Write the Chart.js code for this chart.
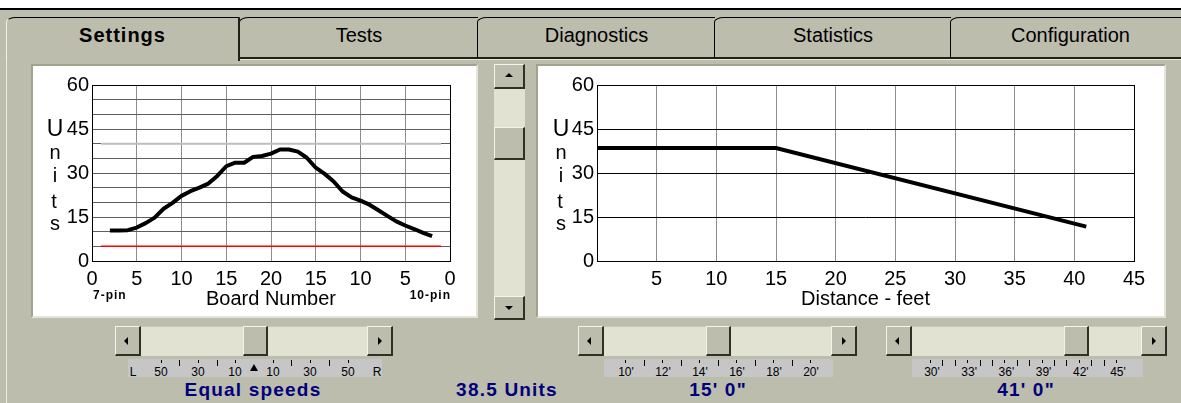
<!DOCTYPE html>
<html>
<head>
<meta charset="utf-8">
<script src="https://cdn.jsdelivr.net/npm/chart.js@4.4.1/dist/chart.umd.min.js"></script>
<style>
  body { margin:0; width:1181px; height:403px; position:relative; overflow:hidden; background:#BDBDAD; font-family:"Liberation Sans", Arial, sans-serif; }
  .tab { position:absolute; top:17px; height:42px; box-sizing:border-box; border-top:1px solid #000; border-left:1px solid #000; border-bottom:2px solid #202018; border-top-left-radius:10px 5px; text-align:center; font-size:20px; line-height:35px; color:#000; }
  .tab.on { border-bottom:none; border-left:1px solid #F2F2E8; border-right:2px solid #202018; font-weight:bold; letter-spacing:1px; height:44px; z-index:2; background:#BDBDAD; }
  .box { position:absolute; background:#fff; box-sizing:border-box; border:2px solid; border-color:#A2A28E #E4E4D8 #E4E4D8 #A2A28E; }
  .track { position:absolute; background:#E2E2D3; }
  .btn { position:absolute; background:#BDBDAD; box-sizing:border-box; border-style:solid; border-width:1px 2px 2px 1px; border-color:#F4F4EA #303024 #303024 #F4F4EA; }
  .arr { position:absolute; width:0; height:0; }
  .strip { position:absolute; background:#C6C6C6; top:359px; height:18px; }
  .t { position:absolute; white-space:nowrap; line-height:1; }
  canvas { position:absolute; }
</style>
</head>
<body>
<div style="position:absolute;left:0;top:0;width:1181px;height:8px;background:#fff"></div>
<div style="position:absolute;left:0;top:8px;width:1181px;height:2px;background:#000"></div>

<div class="tab on" style="left:6px;width:234px">Settings</div>
<div class="tab" style="left:239px;width:239px">Tests</div>
<div class="tab" style="left:477px;width:238px">Diagnostics</div>
<div class="tab" style="left:714px;width:237px">Statistics</div>
<div class="tab" style="left:950px;width:240px">Configuration</div>
<div style="position:absolute;left:239px;top:59px;width:942px;height:1px;background:#E6E6D8"></div>
<div style="position:absolute;left:6px;top:58px;width:1px;height:345px;background:#ECECE0"></div>

<div class="box" style="left:31px;top:64px;width:447px;height:254px"></div>
<div class="box" style="left:536px;top:64px;width:630px;height:254px"></div>

<canvas id="boardChart" width="440" height="248" style="left:35px;top:68px"></canvas>
<canvas id="distChart" width="622" height="248" style="left:540px;top:68px"></canvas>

<script>
const FONT = '"Liberation Sans", Arial, sans-serif';

// left chart: units per board, boards counted 0..20 from each side
const boardNumbers = [2, 3, 4, 5, 6, 7, 8, 9, 10, 11, 12, 13, 14, 15, 16, 17, 18, 19, 20,
  21, 22, 23, 24, 25, 26, 27, 28, 29, 30, 31, 32, 33, 34, 35, 36, 37, 38];
const boardUnits = [10.4, 10.4, 10.5, 11.4, 12.9, 14.8, 17.8, 19.8, 22.2, 23.8, 25.0, 26.4, 29.0, 32.3, 33.5, 33.5, 35.5, 35.8, 36.6,
  38.0, 38.0, 37.3, 35.2, 31.8, 29.7, 27.1, 23.7, 21.7, 20.6, 19.2, 17.3, 15.4, 13.5, 12.1, 10.9, 9.6, 8.5];
const boardTickLabels = [0, 5, 10, 15, 20, 15, 10, 5, 0];
const limitBoards = [1, 39];
const lowLimit = [5, 5];
const highLimit = [40, 40];

// right chart: units over distance
const distanceFeet = [0, 15, 41];
const distanceUnits = [38.5, 38.5, 11.7];

const unitTicks = [0, 15, 30, 45, 60];

const pts = (xs, ys) => xs.map((x, i) => ({x: x, y: ys[i]}));

const framePlugin = {
  id: 'frame',
  beforeDatasetsDraw(chart) {
    const {ctx, chartArea: a} = chart;
    ctx.save();
    ctx.strokeStyle = '#000';
    ctx.lineWidth = 1;
    ctx.strokeRect(Math.round(a.left) + 0.5, Math.round(a.top) + 0.5, Math.round(a.right - a.left), Math.round(a.bottom - a.top));
    ctx.restore();
  }
};

function unitsAxis(step, gridColor) {
  return {
    min: 0, max: 60,
    ticks: {stepSize: step, autoSkip: false, color: '#000', font: {family: FONT, size: 20}, padding: 3,
      callback: v => unitTicks.includes(v) ? v : ''},
    grid: {color: gridColor, drawTicks: false},
    border: {display: false},
    afterFit: s => { s.width = 57; }
  };
}

function xAxis(max, labelFn, title) {
  return {
    type: 'linear', min: 0, max: max,
    ticks: {stepSize: 5, autoSkip: false, maxRotation: 0, color: '#000', font: {family: FONT, size: 20}, padding: 6,
      callback: labelFn},
    grid: {color: '#8C8C8C', drawTicks: false},
    border: {display: false},
    title: {display: true, text: title, color: '#000', font: {family: FONT, size: 20}, padding: {top: 0, bottom: 5}},
    afterFit: s => { s.height = 55; }
  };
}

const common = {
  responsive: false, animation: false, devicePixelRatio: 1,
  plugins: {legend: {display: false}, tooltip: {enabled: false}},
  elements: {point: {radius: 0}, line: {tension: 0}}
};

new Chart(document.getElementById('boardChart'), {
  type: 'line',
  data: {
    datasets: [
      {data: pts(limitBoards, lowLimit), borderColor: '#FF0000', borderWidth: 1.5, order: 2},
      {data: pts(limitBoards, highLimit), borderColor: '#BEBEBE', borderWidth: 2, order: 2},
      {data: pts(boardNumbers, boardUnits), borderColor: '#000', borderWidth: 4, borderJoinStyle: 'round', order: 1}
    ]
  },
  options: Object.assign({}, common, {
    layout: {padding: {top: 17, right: 25, bottom: 0, left: 0}},
    scales: {
      x: xAxis(40, v => boardTickLabels[Math.round(v / 5)], 'Board Number'),
      y: unitsAxis(5, '#5E5E5E')
    }
  }),
  plugins: [framePlugin]
});

new Chart(document.getElementById('distChart'), {
  type: 'line',
  data: {
    datasets: [
      {data: pts(distanceFeet, distanceUnits), borderColor: '#000', borderWidth: 4}
    ]
  },
  options: Object.assign({}, common, {
    layout: {padding: {top: 17, right: 28, bottom: 0, left: 0}},
    scales: {
      x: xAxis(45, v => v === 0 ? '' : v, 'Distance - feet'),
      y: unitsAxis(15, '#000')
    }
  }),
  plugins: [framePlugin]
});

// ---- surrounding window decorations ----
function txt(s, x, baseline, size, css, align) {
  const d = document.createElement('div');
  d.className = 't';
  d.textContent = s;
  d.style.fontSize = size + 'px';
  d.style.top = (baseline - 0.85 * size) + 'px';
  if (align === 'center') { d.style.left = x + 'px'; d.style.transform = 'translateX(-50%)'; }
  else if (align === 'right') { d.style.right = (1181 - x) + 'px'; }
  else d.style.left = x + 'px';
  if (css) d.style.cssText += css;
  document.body.appendChild(d);
}
function div(x, y, w, h, cls, css) {
  const d = document.createElement('div');
  d.className = cls || '';
  d.style.cssText = 'position:absolute;left:' + x + 'px;top:' + y + 'px;width:' + w + 'px;height:' + h + 'px;' + (css || '');
  document.body.appendChild(d);
  return d;
}
function arrow(btn, dir) {
  const a = document.createElement('div');
  a.className = 'arr';
  const s = '4px solid transparent', k = '4px solid #000';
  if (dir === 'l') a.style.cssText = 'left:8px;top:10px;border-top:' + s + ';border-bottom:' + s + ';border-right:' + k;
  if (dir === 'r') a.style.cssText = 'left:10px;top:10px;border-top:' + s + ';border-bottom:' + s + ';border-left:' + k;
  if (dir === 'u') a.style.cssText = 'left:10px;top:8px;border-left:' + s + ';border-right:' + s + ';border-bottom:' + k;
  if (dir === 'd') a.style.cssText = 'left:10px;top:9px;border-left:' + s + ';border-right:' + s + ';border-top:' + k;
  btn.appendChild(a);
}
function hbar(x, w, thumbX) {
  div(x, 326, w, 30, 'track', 'border-top:1px solid #C8C8B4;box-sizing:border-box');
  arrow(div(x, 326, 26, 30, 'btn'), 'l');
  arrow(div(x + w - 26, 326, 26, 30, 'btn'), 'r');
  div(thumbX, 326, 25, 30, 'btn');
}
hbar(115, 278, 243);
hbar(578, 279, 706);
hbar(886, 281, 1064);

div(494, 64, 31, 256, 'track');
arrow(div(494, 64, 31, 25, 'btn'), 'u');
arrow(div(494, 127, 31, 33, 'btn'), '');
arrow(div(494, 296, 31, 24, 'btn'), 'd');

// scale strips under the sliders
div(128, 359, 254, 18, 'strip');
div(604, 359, 229, 18, 'strip');
div(912, 359, 231, 18, 'strip');
function tick(x, tall) { div(x, 360, 1, tall ? 6 : 3, '', 'background:#000'); }
[['L', 133], ['50', 161], ['30', 198], ['10', 235], ['10', 273], ['30', 310], ['50', 348], ['R', 377]]
  .forEach(p => { txt(p[0], p[1], 376, 12, '', 'center'); if (p[0] !== 'L' && p[0] !== 'R') tick(p[1], false); });
[179, 217, 291, 329].forEach(x => tick(x, true));
div(250, 364, 0, 0, '', 'border-left:4px solid transparent;border-right:4px solid transparent;border-bottom:7px solid #000');
[10, 12, 14, 16, 18, 20].forEach(f => { const x = 625 + (f - 10) * 18.5; txt(f + "'", x + 1, 376, 12, '', 'center'); tick(Math.round(x), false); });
[11, 13, 15, 17, 19].forEach(f => tick(Math.round(625 + (f - 10) * 18.5), true));
for (let f = 30; f <= 45; f++) {
  const x = 930 + (f - 30) * 12.4;
  if (f % 3 === 0) { txt(f + "'", x + 2, 376, 12, '', 'center'); tick(Math.round(x), false); }
  else tick(Math.round(x), true);
}

const blue = 'font-weight:bold;color:#00007C;letter-spacing:1.2px';
txt('Equal speeds', 253, 396, 19, blue, 'center');
txt('38.5 Units', 507, 396, 19, blue, 'center');
txt("15' 0\"", 718, 396, 19, blue, 'center');
txt("41' 0\"", 1026, 396, 19, blue, 'center');

// stacked "Units" axis captions and pin labels
[[0, 0], [506, 0]].forEach(o => {
  txt('U', 55 + o[0], 137, 23, '', 'center');
  txt('n', 55 + o[0], 159, 20, '', 'center');
  txt('i', 55 + o[0], 182, 20, '', 'center');
  txt('t', 54 + o[0], 208, 20, '', 'center');
  txt('s', 55 + o[0], 230, 20, '', 'center');
});
txt('7-pin', 93, 299, 12, 'font-weight:bold;letter-spacing:1px', 'left');
txt('10-pin', 451, 299, 12, 'font-weight:bold;letter-spacing:1px', 'right');
</script>
</body>
</html>
